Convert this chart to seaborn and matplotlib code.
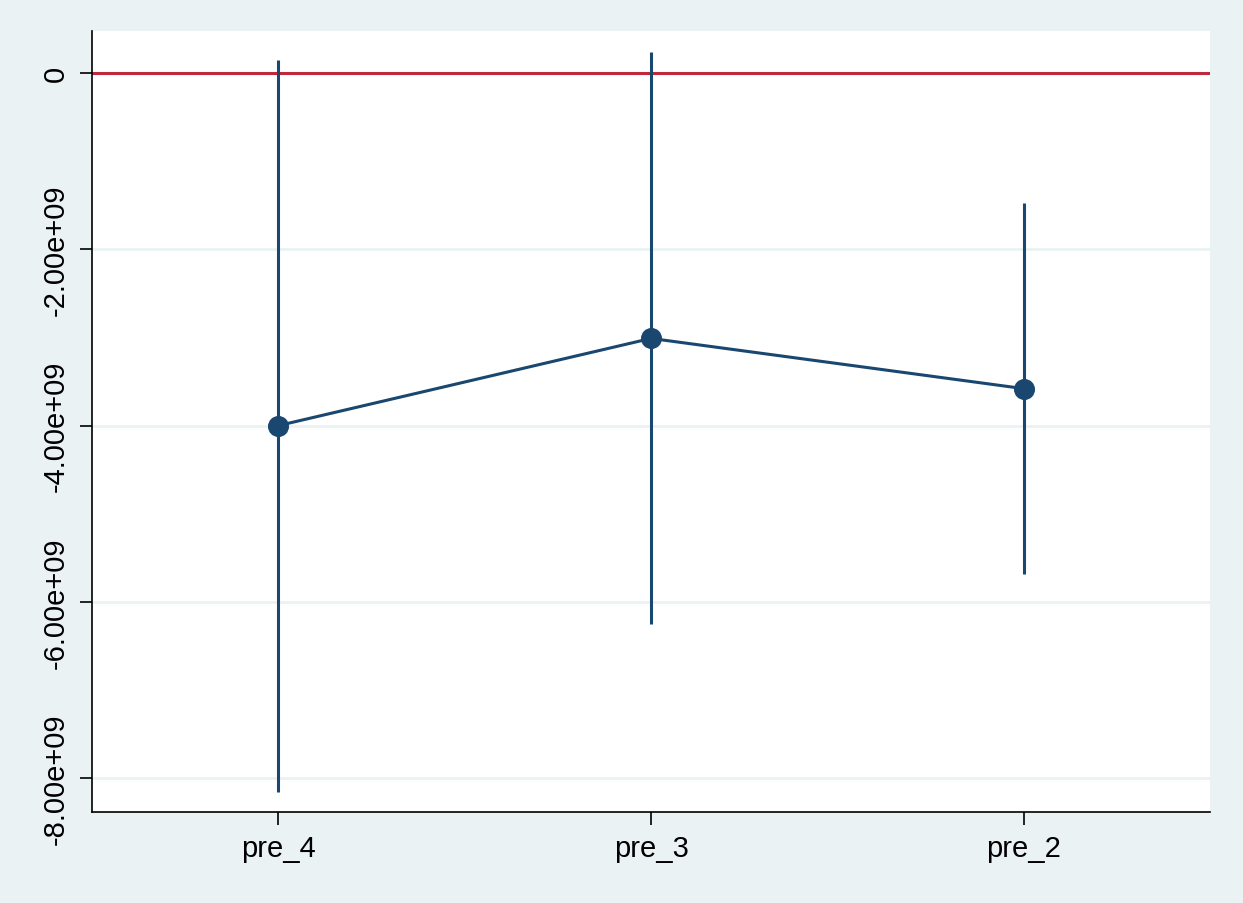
import numpy as np
import pandas as pd
import matplotlib.pyplot as plt
import seaborn as sns

# Coeficientes e intervalos
labels = ['pre_4', 'pre_3', 'pre_2']
coef = [-4.00e9, -3.01e9, -3.58e9]
ci_low = [-8.16e9, -6.25e9, -5.69e9]
ci_high = [0.15e9, 0.24e9, -1.47e9]
yticks = [0, -2e9, -4e9, -6e9, -8e9]
ytick_labels = ['0', '-2.00e+09', '-4.00e+09', '-6.00e+09', '-8.00e+09']

navy = '#1a476f'
bg = '#eaf2f3'

df = pd.DataFrame({'termo': labels, 'coef': coef, 'lo': ci_low, 'hi': ci_high})

sns.set_theme(style="white")
plt.rcParams['font.family'] = ['Liberation Sans', 'DejaVu Sans']

fig = plt.figure(figsize=(12.43, 9.04), dpi=100, facecolor=bg)
ax = fig.add_axes([0.074, 0.1007, 0.8995, 0.8639])
ax.set_facecolor('white')

# grade horizontal
for y in yticks[1:]:
    ax.axhline(y, color=bg, lw=2, zorder=0)
ax.axhline(0, color='#c0283c', lw=2.2, zorder=1)

# intervalos de confiança
ax.vlines(np.arange(len(df)), df['lo'], df['hi'], color=navy, lw=2.2, zorder=2)

sns.pointplot(data=df, x='termo', y='coef', color=navy, errorbar=None,
              markers='o', markersize=13.5, linewidth=2.2, ax=ax, zorder=3)

ax.set_xlim(-0.5, 2.5)
ax.set_ylim(-8.386e9, 0.48e9)
ax.set_yticks(yticks)
ax.set_yticklabels(ytick_labels, rotation=90, va='center')
ax.set_xlabel('')
ax.set_ylabel('')
ax.tick_params(axis='both', labelsize=21, length=9, width=1.2, color='black',
               labelcolor='black', direction='out', left=True, bottom=True, pad=7)

for side in ['top', 'right']:
    ax.spines[side].set_visible(False)
for side in ['left', 'bottom']:
    ax.spines[side].set_color('black')
    ax.spines[side].set_linewidth(1.2)

plt.savefig('out.png', dpi=100, facecolor=bg)
